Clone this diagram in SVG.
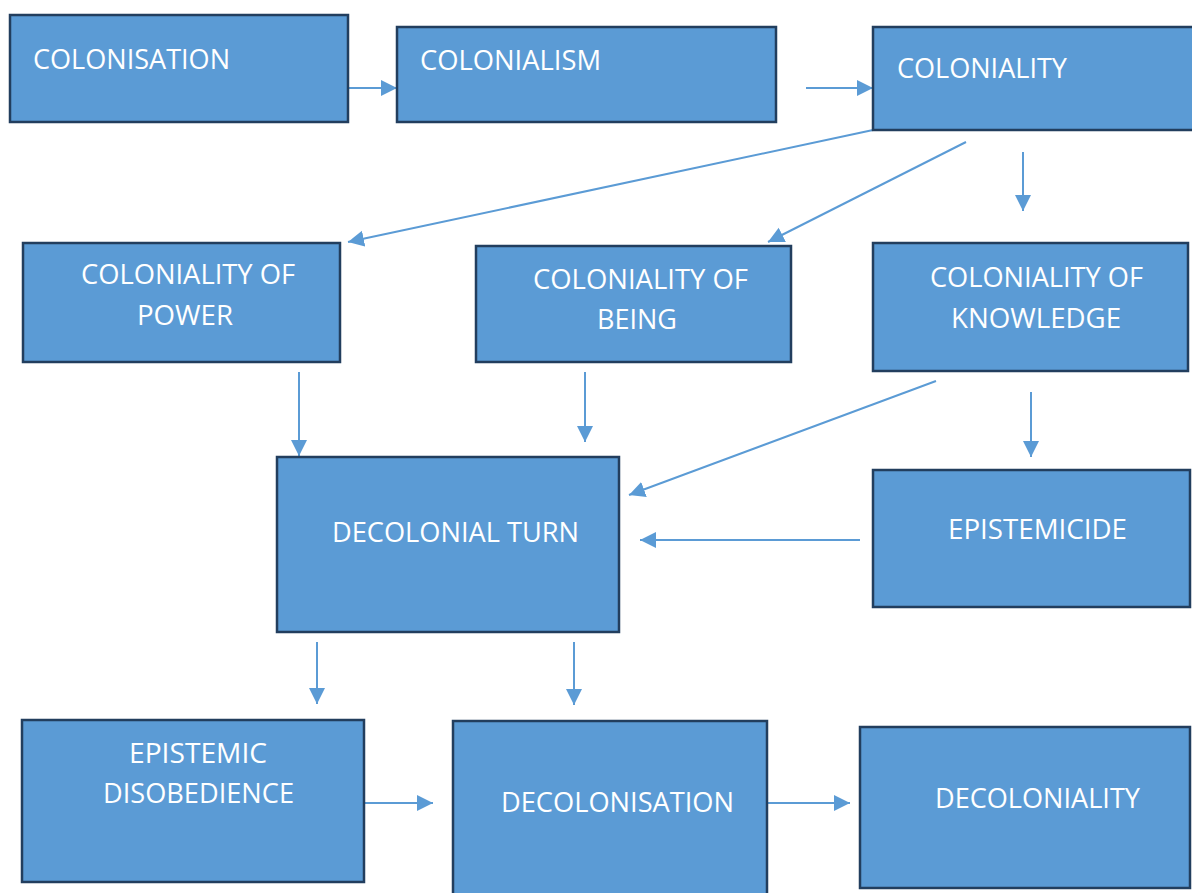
<svg xmlns="http://www.w3.org/2000/svg" width="1192" height="893" viewBox="0 0 1192 893">
<style>
.box{fill:#5B9BD5;stroke:#223E5E;stroke-width:2.5}
.t{font-family:"Open Sans","Liberation Sans",sans-serif;font-size:27px;fill:#FFFFFF}
.c{stroke:#5B9BD5;stroke-width:2;fill:none;marker-end:url(#ah)}
</style>
<defs>
<marker id="ah" markerUnits="userSpaceOnUse" markerWidth="18" markerHeight="18" refX="16" refY="8" orient="auto">
<path d="M0,0 L16,8 L0,16 z" fill="#5B9BD5"/>
</marker>
</defs>
<rect width="1192" height="893" fill="#FFFFFF"/>
<g id="connectors">
<line class="c" x1="348" y1="88" x2="397" y2="88"/>
<line class="c" x1="806" y1="88" x2="873" y2="88"/>
<line class="c" x1="873" y1="130" x2="348" y2="242"/>
<line class="c" x1="966" y1="142" x2="768" y2="242"/>
<line class="c" x1="1023" y1="152" x2="1023" y2="211"/>
<line class="c" x1="299" y1="372" x2="299" y2="456"/>
<line class="c" x1="585" y1="372" x2="585" y2="442"/>
<line class="c" x1="936" y1="381" x2="629" y2="495"/>
<line class="c" x1="1031" y1="392" x2="1031" y2="457"/>
<line class="c" x1="860" y1="540" x2="640" y2="540"/>
<line class="c" x1="317" y1="642" x2="317" y2="704"/>
<line class="c" x1="574" y1="642" x2="574" y2="705"/>
<line class="c" x1="364" y1="803" x2="433" y2="803"/>
<line class="c" x1="767" y1="803" x2="850" y2="803"/>
</g>
<g id="colonisation">
<rect class="box" x="10" y="15" width="338" height="107"/>
<text class="t" x="33" y="69" textLength="197" lengthAdjust="spacingAndGlyphs">COLONISATION</text>
</g>
<g id="colonialism">
<rect class="box" x="397" y="27" width="379" height="95"/>
<text class="t" x="420" y="70" textLength="181" lengthAdjust="spacingAndGlyphs">COLONIALISM</text>
</g>
<g id="coloniality">
<rect class="box" x="873" y="27" width="330" height="103"/>
<text class="t" x="897" y="78" textLength="170" lengthAdjust="spacingAndGlyphs">COLONIALITY</text>
</g>
<g id="coloniality-of-power">
<rect class="box" x="23" y="243" width="317" height="119"/>
<text class="t" x="81" y="284" textLength="214" lengthAdjust="spacingAndGlyphs">COLONIALITY OF</text>
<text class="t" x="137" y="325" textLength="96" lengthAdjust="spacingAndGlyphs">POWER</text>
</g>
<g id="coloniality-of-being">
<rect class="box" x="476" y="246" width="315" height="116"/>
<text class="t" x="533" y="289" textLength="215" lengthAdjust="spacingAndGlyphs">COLONIALITY OF</text>
<text class="t" x="597" y="329" textLength="80" lengthAdjust="spacingAndGlyphs">BEING</text>
</g>
<g id="coloniality-of-knowledge">
<rect class="box" x="873" y="243" width="315" height="128"/>
<text class="t" x="930" y="287" textLength="213" lengthAdjust="spacingAndGlyphs">COLONIALITY OF</text>
<text class="t" x="951" y="328" textLength="170" lengthAdjust="spacingAndGlyphs">KNOWLEDGE</text>
</g>
<g id="decolonial-turn">
<rect class="box" x="277" y="457" width="342" height="175"/>
<text class="t" x="332" y="542" textLength="247" lengthAdjust="spacingAndGlyphs">DECOLONIAL TURN</text>
</g>
<g id="epistemicide">
<rect class="box" x="873" y="470" width="317" height="137"/>
<text class="t" x="948" y="539" textLength="179" lengthAdjust="spacingAndGlyphs">EPISTEMICIDE</text>
</g>
<g id="epistemic-disobedience">
<rect class="box" x="22" y="720" width="342" height="162"/>
<text class="t" x="129" y="763" textLength="138" lengthAdjust="spacingAndGlyphs">EPISTEMIC</text>
<text class="t" x="103" y="803" textLength="191" lengthAdjust="spacingAndGlyphs">DISOBEDIENCE</text>
</g>
<g id="decolonisation">
<rect class="box" x="453" y="721" width="314" height="180"/>
<text class="t" x="501" y="812" textLength="233" lengthAdjust="spacingAndGlyphs">DECOLONISATION</text>
</g>
<g id="decoloniality">
<rect class="box" x="860" y="727" width="330" height="161"/>
<text class="t" x="935" y="808" textLength="205" lengthAdjust="spacingAndGlyphs">DECOLONIALITY</text>
</g>
</svg>
